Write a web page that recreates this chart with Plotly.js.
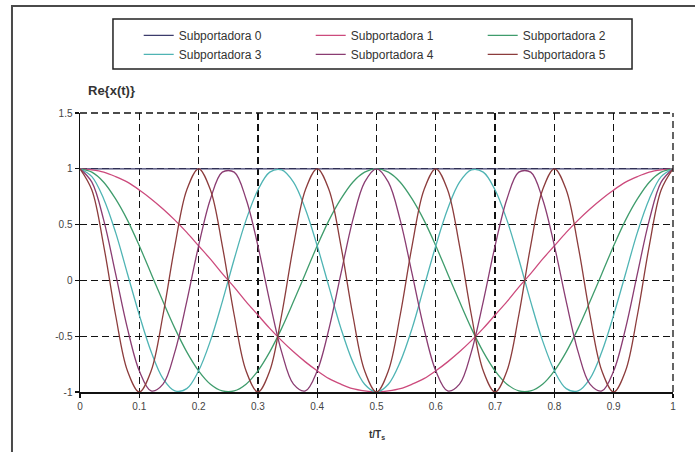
<!DOCTYPE html>
<html>
<head>
<meta charset="utf-8">
<script src="https://cdn.plot.ly/plotly-3.0.1.min.js"></script>
<style>
  html, body { margin: 0; padding: 0; background: #ffffff; }
  #chart { width: 695px; height: 452px; }
</style>
</head>
<body>
<div id="chart"></div>
<script>
// Sample instants t/Ts
const tValues = [0, 0.02, 0.04, 0.06, 0.08, 0.1, 0.12, 0.14, 0.16, 0.18,
  0.2, 0.22, 0.24, 0.26, 0.28, 0.3, 0.32, 0.34, 0.36, 0.38,
  0.4, 0.42, 0.44, 0.46, 0.48, 0.5, 0.52, 0.54, 0.56, 0.58,
  0.6, 0.62, 0.64, 0.66, 0.68, 0.7, 0.72, 0.74, 0.76, 0.78,
  0.8, 0.82, 0.84, 0.86, 0.88, 0.9, 0.92, 0.94, 0.96, 0.98, 1];

// Real part of each subcarrier
const sub0 = [1, 1, 1, 1, 1, 1, 1, 1, 1, 1, 1, 1, 1, 1, 1, 1, 1, 1, 1, 1, 1, 1, 1, 1, 1, 1,
  1, 1, 1, 1, 1, 1, 1, 1, 1, 1, 1, 1, 1, 1, 1, 1, 1, 1, 1, 1, 1, 1, 1, 1, 1];
const sub1 = [1, .99, .97, .93, .88, .81, .73, .64, .54, .43, .31, .19, .06, -.06, -.19, -.31, -.43, -.54, -.64, -.73, -.81, -.88, -.93, -.97, -.99, -1,
  -.99, -.97, -.93, -.88, -.81, -.73, -.64, -.54, -.43, -.31, -.19, -.06, .06, .19, .31, .43, .54, .64, .73, .81, .88, .93, .97, .99, 1];
const sub2 = [1, .97, .88, .73, .54, .31, .06, -.19, -.43, -.64, -.81, -.93, -.99, -.99, -.93, -.81, -.64, -.43, -.19, .06, .31, .54, .73, .88, .97, 1,
  .97, .88, .73, .54, .31, .06, -.19, -.43, -.64, -.81, -.93, -.99, -.99, -.93, -.81, -.64, -.43, -.19, .06, .31, .54, .73, .88, .97, 1];
const sub3 = [1, .93, .73, .43, .06, -.31, -.64, -.88, -.99, -.97, -.81, -.54, -.19, .19, .54, .81, .97, .99, .88, .64, .31, -.06, -.43, -.73, -.93, -1,
  -.93, -.73, -.43, -.06, .31, .64, .88, .99, .97, .81, .54, .19, -.19, -.54, -.81, -.97, -.99, -.88, -.64, -.31, .06, .43, .73, .93, 1];
const sub4 = [1, .88, .54, .06, -.43, -.81, -.99, -.93, -.64, -.19, .31, .73, .97, .97, .73, .31, -.19, -.64, -.93, -.99, -.81, -.43, .06, .54, .88, 1,
  .88, .54, .06, -.43, -.81, -.99, -.93, -.64, -.19, .31, .73, .97, .97, .73, .31, -.19, -.64, -.93, -.99, -.81, -.43, .06, .54, .88, 1];
const sub5 = [1, .81, .31, -.31, -.81, -1, -.81, -.31, .31, .81,
  1, .81, .31, -.31, -.81, -1, -.81, -.31, .31, .81,
  1, .81, .31, -.31, -.81, -1, -.81, -.31, .31, .81,
  1, .81, .31, -.31, -.81, -1, -.81, -.31, .31, .81,
  1, .81, .31, -.31, -.81, -1, -.81, -.31, .31, .81, 1];

const seriesNames = ['Subportadora 0', 'Subportadora 1', 'Subportadora 2',
  'Subportadora 3', 'Subportadora 4', 'Subportadora 5'];
const seriesValues = [sub0, sub1, sub2, sub3, sub4, sub5];
const seriesColors = ['#3c3c6c', '#cc4a7c', '#3f9c6c', '#4fb4b4', '#8a3c72', '#8c3c3c'];

const xTickVals = [0, 0.1, 0.2, 0.3, 0.4, 0.5, 0.6, 0.7, 0.8, 0.9, 1];
const xTickText = ['0', '0.1', '0.2', '0.3', '0.4', '0.5', '0.6', '0.7', '0.8', '0.9', '1'];
const yTickVals = [-1, -0.5, 0, 0.5, 1, 1.5];
const yTickText = ['-1', '-0.5', '0', '0.5', '1', '1.5'];

const traces = seriesValues.map((vals, i) => ({
  type: 'scatter',
  mode: 'lines',
  name: seriesNames[i],
  x: tValues,
  y: vals,
  line: { color: seriesColors[i], width: 1.3, shape: 'spline', smoothing: 1 },
  hoverinfo: 'skip'
}));

const FONT = '"Liberation Sans", Arial, sans-serif';
const GRID_DASH = '7px,4px';

const axisCommon = {
  showline: true,
  linecolor: '#111',
  linewidth: 1.5,
  ticks: 'outside',
  ticklen: 4,
  tickwidth: 1.3,
  tickcolor: '#111',
  showgrid: true,
  gridcolor: '#111',
  gridwidth: 1.3,
  griddash: GRID_DASH,
  zeroline: false,
  tickmode: 'array',
  tickfont: { family: FONT, size: 10, color: '#444' },
  fixedrange: true
};

const layout = {
  width: 695,
  height: 452,
  margin: { l: 80, r: 22, t: 113, b: 60 },
  paper_bgcolor: '#ffffff',
  plot_bgcolor: '#ffffff',
  font: { family: FONT, color: '#333' },
  xaxis: Object.assign({}, axisCommon, {
    range: [0, 1],
    tickvals: xTickVals,
    ticktext: xTickText
  }),
  yaxis: Object.assign({}, axisCommon, {
    range: [-1, 1.5],
    tickvals: yTickVals,
    ticktext: yTickText
  }),
  showlegend: true,
  legend: {
    orientation: 'h',
    entrywidth: 127,
    entrywidthmode: 'pixels',
    x: 0.099,
    xanchor: 'left',
    y: 1.33,
    yanchor: 'top',
    bgcolor: 'rgba(0,0,0,0)',
    borderwidth: 0,
    traceorder: 'normal',
    font: { family: FONT, size: 12, color: '#333' }
  },
  shapes: [
    // outer frame (open at right and bottom)
    { type: 'rect', xref: 'paper', yref: 'paper', x0: -0.1147, x1: 1.2, y0: -0.5, y1: 1.3835,
      line: { color: '#4a4a4a', width: 2 }, fillcolor: 'rgba(0,0,0,0)', layer: 'below' },
    // legend box
    { type: 'rect', xref: 'paper', yref: 'paper', x0: 0.0556, x1: 0.9309, y0: 1.1577, y1: 1.3369,
      line: { color: '#222', width: 1.5 }, fillcolor: 'rgba(0,0,0,0)', layer: 'above' },
    // dashed top and right edges of the plotting area
    { type: 'line', xref: 'paper', yref: 'paper', x0: 0, x1: 1, y0: 1, y1: 1,
      line: { color: '#111', width: 1.3, dash: GRID_DASH } },
    { type: 'line', xref: 'paper', yref: 'paper', x0: 1, x1: 1, y0: 0, y1: 1,
      line: { color: '#111', width: 1.3, dash: GRID_DASH } }
  ],
  annotations: [
    { text: '<b>Re{x(t)}</b>', xref: 'paper', yref: 'paper', x: 0.0101, y: 1.0789,
      xanchor: 'left', yanchor: 'middle', showarrow: false,
      font: { family: FONT, size: 13, color: '#333' } },
    { text: '<b>t/T<sub>s</sub></b>', xref: 'paper', yref: 'paper', x: 0.5, y: -0.154,
      xanchor: 'center', yanchor: 'middle', showarrow: false,
      font: { family: FONT, size: 10, color: '#333' } }
  ]
};

Plotly.newPlot('chart', traces, layout, { staticPlot: true, displayModeBar: false });
</script>
</body>
</html>
